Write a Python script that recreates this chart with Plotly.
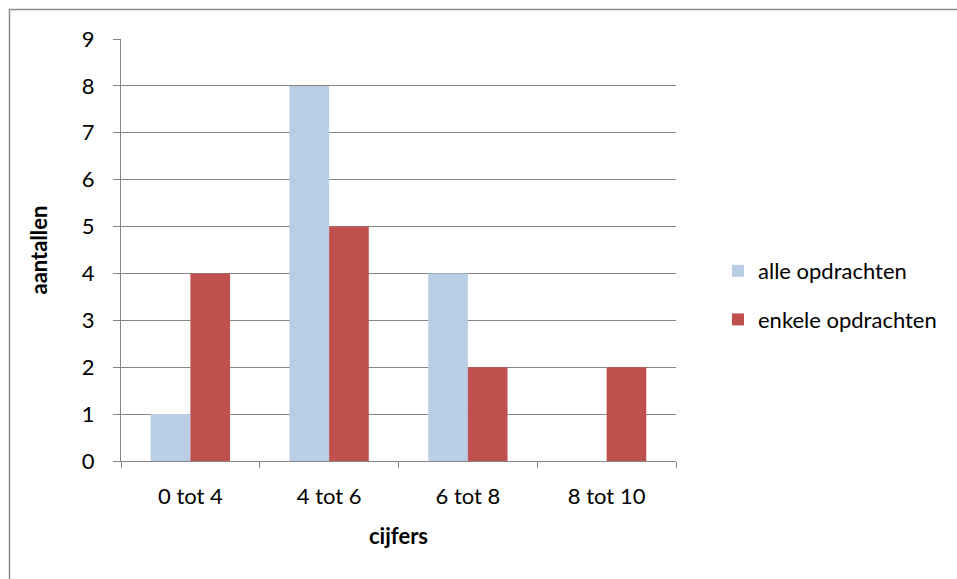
import plotly.graph_objects as go

categories = ["0 tot 4", "4 tot 6", "6 tot 8", "8 tot 10"]
alle = [1, 8, 4, 0]
enkele = [4, 5, 2, 2]
series_names = ["alle opdrachten", "enkele opdrachten"]
colors = ["#B9CDE5", "#C0504D"]

W, H = 957, 579
L, R, T, B = 121, 281, 39, 118
pw, ph = W - L - R, H - T - B

fig = go.Figure()
fig.add_trace(go.Bar(x=categories, y=alle, name=series_names[0], marker=dict(color=colors[0], line=dict(width=0)), legendgroup="a"))
fig.add_trace(go.Bar(x=categories, y=enkele, name=series_names[1], marker=dict(color=colors[1], line=dict(width=0)), legendgroup="b"))

font = "Lato, 'Open Sans', sans-serif"
grid = "#868686"
fs = 22

def px_x(p):
    return (p - L) / pw

def px_y(p):
    return (H - B - p) / ph

fig.update_layout(
    width=W, height=H,
    margin=dict(l=L, r=R, t=T, b=B),
    paper_bgcolor="white", plot_bgcolor="white",
    barmode="group", bargap=1.5 / 3.5, bargroupgap=0,
    font=dict(family=font, size=fs, color="black"),
    showlegend=True,
    legend=dict(x=px_x(718), y=px_y(250), xanchor="left", yanchor="top",
                font=dict(size=fs), tracegroupgap=17, bgcolor="rgba(0,0,0,0)"),
    xaxis=dict(
        showline=True, linecolor=grid, linewidth=1,
        ticks="outside", tickson="boundaries", ticklen=6, tickcolor=grid,
        showgrid=False,
        ticklabelstandoff=16,
        title=dict(text="<b>cijfers</b>", font=dict(size=fs), standoff=20),
        tickfont=dict(size=fs),
    ),
    yaxis=dict(
        range=[0, 9], dtick=1,
        showline=True, linecolor=grid, linewidth=1,
        ticks="outside", ticklen=7, tickcolor=grid,
        showgrid=True, gridcolor=grid, gridwidth=1,
        zeroline=False,
        ticklabelstandoff=14,
        title=dict(text="<b>aantallen</b>", font=dict(size=fs), standoff=28),
        tickfont=dict(size=fs),
    ),
    shapes=[dict(type="rect", xref="paper", yref="paper",
                 x0=px_x(9.5), x1=px_x(970), y0=px_y(600), y1=px_y(9.5),
                 line=dict(color="#8C8C8C", width=1.5), layer="below")],
)

fig.write_html("out.html")
